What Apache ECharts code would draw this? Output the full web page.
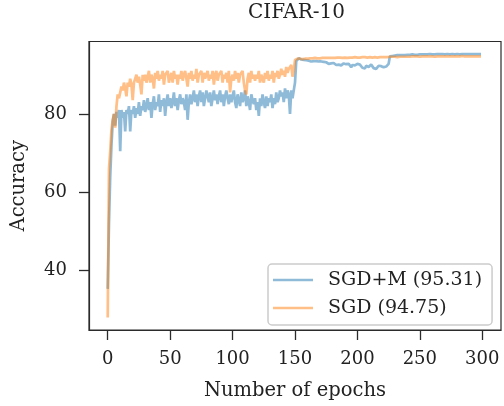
<!DOCTYPE html>
<html>
<head>
<meta charset="utf-8">
<script src="https://cdn.jsdelivr.net/npm/echarts@6/dist/echarts.min.js"></script>
<style>html,body{margin:0;padding:0;background:#fff}#c{width:504px;height:406px}</style>
</head>
<body>
<div id="c"></div>
<script>
const title = 'CIFAR-10';
const xLabel = 'Number of epochs';
const yLabel = 'Accuracy';
const seriesNames = ['SGD+M (95.31)', 'SGD (94.75)'];
const xTicks = [0, 50, 100, 150, 200, 250, 300];
const yTicks = [40, 60, 80];

const sgdm = [
35.3,52.0,64.0,72.0,78.0,80.0,77.0,80.5,79.0,81.0,
70.5,81.0,79.0,80.5,75.5,81.0,80.0,82.0,75.5,81.0,
80.0,82.0,79.0,81.5,80.0,83.0,79.5,82.0,81.0,83.5,
80.5,82.0,84.0,81.0,83.0,79.0,82.5,84.5,81.0,83.0,
82.0,85.0,80.5,83.5,82.0,84.0,79.5,83.0,85.0,82.0,
84.0,81.5,83.0,85.5,82.0,84.0,81.0,83.5,85.0,82.5,
84.0,83.0,81.0,85.0,78.5,83.0,85.0,82.5,84.0,86.0,
83.0,85.0,82.0,84.5,86.0,83.0,85.5,82.0,84.0,86.0,
84.5,83.0,85.5,82.0,84.0,86.0,83.5,85.0,82.5,84.5,
86.0,83.0,85.0,82.0,84.5,86.0,84.0,82.5,85.0,83.0,
84.5,86.0,83.0,81.5,85.0,83.5,82.0,85.5,83.0,84.0,
86.0,82.0,84.5,83.0,81.0,85.0,83.5,82.5,84.0,81.0,
83.0,79.5,84.0,82.0,85.0,83.0,81.5,84.5,82.0,84.0,
83.0,85.0,81.5,84.0,82.5,85.5,83.0,84.0,86.0,84.5,
85.5,83.0,86.5,84.0,86.0,85.0,80.0,86.0,84.0,84.5,
88.0,93.5,94.0,94.2,94.1,93.9,94.0,93.8,93.9,93.7,
93.8,93.6,93.7,93.4,93.6,93.5,93.2,93.5,93.3,93.4,
93.2,93.4,93.1,93.3,92.9,93.2,93.0,92.8,93.1,92.9,
92.7,93.0,92.8,92.5,92.9,92.6,92.8,92.4,92.7,92.9,
92.5,92.7,92.3,92.8,92.6,91.9,92.5,92.7,92.4,92.6,
92.8,92.3,92.6,92.1,91.8,91.4,91.6,92.3,92.5,92.0,
92.4,92.6,92.1,91.7,91.3,91.5,92.0,92.3,91.8,92.2,
92.4,91.9,92.3,92.1,92.5,92.8,94.7,94.8,94.8,94.9,
94.9,94.9,95.0,94.9,95.0,95.0,95.0,95.1,95.0,95.1,
95.1,95.0,95.1,95.1,95.2,95.1,95.1,95.2,95.1,95.2,
95.2,95.1,95.2,95.2,95.2,95.3,95.2,95.2,95.3,95.2,
95.2,95.3,95.2,95.3,95.3,95.2,95.3,95.2,95.3,95.3,
95.2,95.3,95.3,95.3,95.2,95.3,95.3,95.3,95.2,95.3,
95.3,95.3,95.2,95.3,95.3,95.3,95.3,95.2,95.3,95.3,
95.3,95.3,95.3,95.2,95.3,95.3,95.3,95.3,95.3,95.3
];

const sgd = [
28.0,66.0,70.5,76.0,78.5,80.0,76.5,82.0,85.0,84.0,
85.5,87.0,86.0,88.0,86.5,84.5,88.0,87.0,89.0,87.5,
83.5,88.0,89.0,90.0,88.0,89.5,87.5,85.0,90.0,88.5,
90.0,88.0,89.5,91.0,88.0,90.0,89.0,86.5,90.5,89.0,
91.0,88.5,90.0,89.0,91.0,87.5,90.0,89.5,91.0,88.0,
89.5,90.5,88.0,91.0,89.0,90.0,87.5,90.0,89.0,91.0,
88.5,90.0,91.0,89.0,87.0,90.5,89.0,91.0,88.5,90.0,
89.0,91.5,88.0,90.0,89.5,91.0,88.0,90.5,89.0,90.0,
91.0,88.5,90.0,89.0,91.0,87.5,90.0,91.0,88.5,90.0,
89.5,91.0,88.0,90.0,89.0,90.5,88.0,91.0,85.5,89.0,
90.0,88.5,91.0,89.0,90.5,88.0,90.0,89.5,91.0,88.0,
86.0,85.0,89.0,90.5,88.0,91.0,89.0,90.0,88.5,90.0,
89.0,91.0,88.0,90.0,89.5,88.0,90.5,89.0,91.0,88.5,
90.0,89.0,91.0,88.0,90.5,89.5,91.0,89.0,90.0,91.5,
90.0,91.0,89.5,92.0,90.5,91.5,92.0,92.5,89.5,91.0,
93.8,94.0,94.1,94.0,94.1,94.1,94.0,94.1,94.1,94.2,
94.1,94.2,94.2,94.1,94.2,94.2,94.3,94.2,94.2,94.3,
94.2,94.3,94.3,94.2,94.3,94.3,94.3,94.2,94.3,94.3,
94.3,94.4,94.3,94.3,94.4,94.3,94.4,94.4,94.3,94.4,
94.4,94.4,94.3,94.4,94.4,94.5,94.4,94.4,94.5,94.4,
94.4,94.5,94.4,94.5,94.5,94.4,94.5,94.5,94.4,94.5,
94.5,94.5,94.4,94.5,94.5,94.5,94.4,94.5,94.5,94.5,
94.5,94.4,94.5,94.5,94.5,94.6,94.6,94.5,94.6,94.6,
94.6,94.6,94.5,94.6,94.6,94.6,94.6,94.7,94.6,94.6,
94.6,94.7,94.6,94.6,94.7,94.6,94.7,94.6,94.7,94.7,
94.6,94.7,94.7,94.6,94.7,94.7,94.7,94.6,94.7,94.7,
94.7,94.7,94.6,94.7,94.7,94.7,94.7,94.8,94.7,94.7,
94.7,94.7,94.7,94.8,94.7,94.7,94.7,94.7,94.7,94.8,
94.7,94.7,94.7,94.7,94.8,94.7,94.7,94.7,94.7,94.7,
94.7,94.8,94.7,94.7,94.7,94.7,94.7,94.7,94.7,94.7
];

const font = 'DejaVu Serif';
const axisColor = '#2b2b2b';
const textColor = '#222222';
const blue = 'rgba(31,119,180,0.5)';
const orange = 'rgba(255,127,14,0.5)';

const chart = echarts.init(document.getElementById('c'), null, {renderer: 'canvas'});
chart.setOption({
  animation: false,
  backgroundColor: '#ffffff',
  title: {
    text: title,
    left: 248, top: 3, padding: 0,
    textStyle: {fontFamily: font, fontSize: 20, fontWeight: 'normal', color: textColor}
  },
  grid: {
    left: 89, right: 3, top: 41.5, bottom: 72,
    show: true, borderColor: axisColor, borderWidth: 1.2, backgroundColor: 'transparent',
    containLabel: false
  },
  legend: {
    orient: 'vertical',
    left: 268, top: 264,
    padding: [6, 10, 7, 5],
    icon: 'rect',
    itemWidth: 40, itemHeight: 2.5, itemGap: 8,
    backgroundColor: 'rgba(255,255,255,0.8)',
    borderColor: '#cccccc', borderWidth: 1.5, borderRadius: 4,
    textStyle: {fontFamily: font, fontSize: 19, color: textColor, lineHeight: 20, padding: [0, 0, 0, 10]},
    data: [
      {name: seriesNames[0], itemStyle: {color: blue}},
      {name: seriesNames[1], itemStyle: {color: orange}}
    ]
  },
  xAxis: {
    type: 'value', min: -15, max: 315, position: 'bottom',
    name: xLabel, nameLocation: 'middle', nameGap: 51,
    nameTextStyle: {fontFamily: font, fontSize: 19.5, color: textColor},
    axisLine: {show: true, onZero: false, lineStyle: {color: axisColor, width: 1.2}},
    axisTick: {show: true, length: 10, lineStyle: {color: axisColor, width: 1.3}, customValues: xTicks},
    axisLabel: {fontFamily: font, fontSize: 18, color: textColor, margin: 20, customValues: xTicks},
    splitLine: {show: false}
  },
  yAxis: {
    type: 'value', min: 24.8, max: 98.5, position: 'left',
    name: yLabel, nameLocation: 'middle', nameGap: 60,
    nameTextStyle: {fontFamily: font, fontSize: 19.5, color: textColor},
    axisLine: {show: true, onZero: false, lineStyle: {color: axisColor, width: 1.2}},
    axisTick: {show: true, length: 10, lineStyle: {color: axisColor, width: 1.3}, customValues: yTicks},
    axisLabel: {fontFamily: font, fontSize: 18, color: textColor, margin: 22, customValues: yTicks},
    splitLine: {show: false}
  },
  series: [
    {
      name: seriesNames[0], type: 'line', symbol: 'none',
      data: sgdm.map((v, i) => [i, v]),
      lineStyle: {color: blue, width: 2.7},
      itemStyle: {color: blue}
    },
    {
      name: seriesNames[1], type: 'line', symbol: 'none',
      data: sgd.map((v, i) => [i, v]),
      lineStyle: {color: orange, width: 2.7},
      itemStyle: {color: orange}
    }
  ]
});
</script>
</body>
</html>
